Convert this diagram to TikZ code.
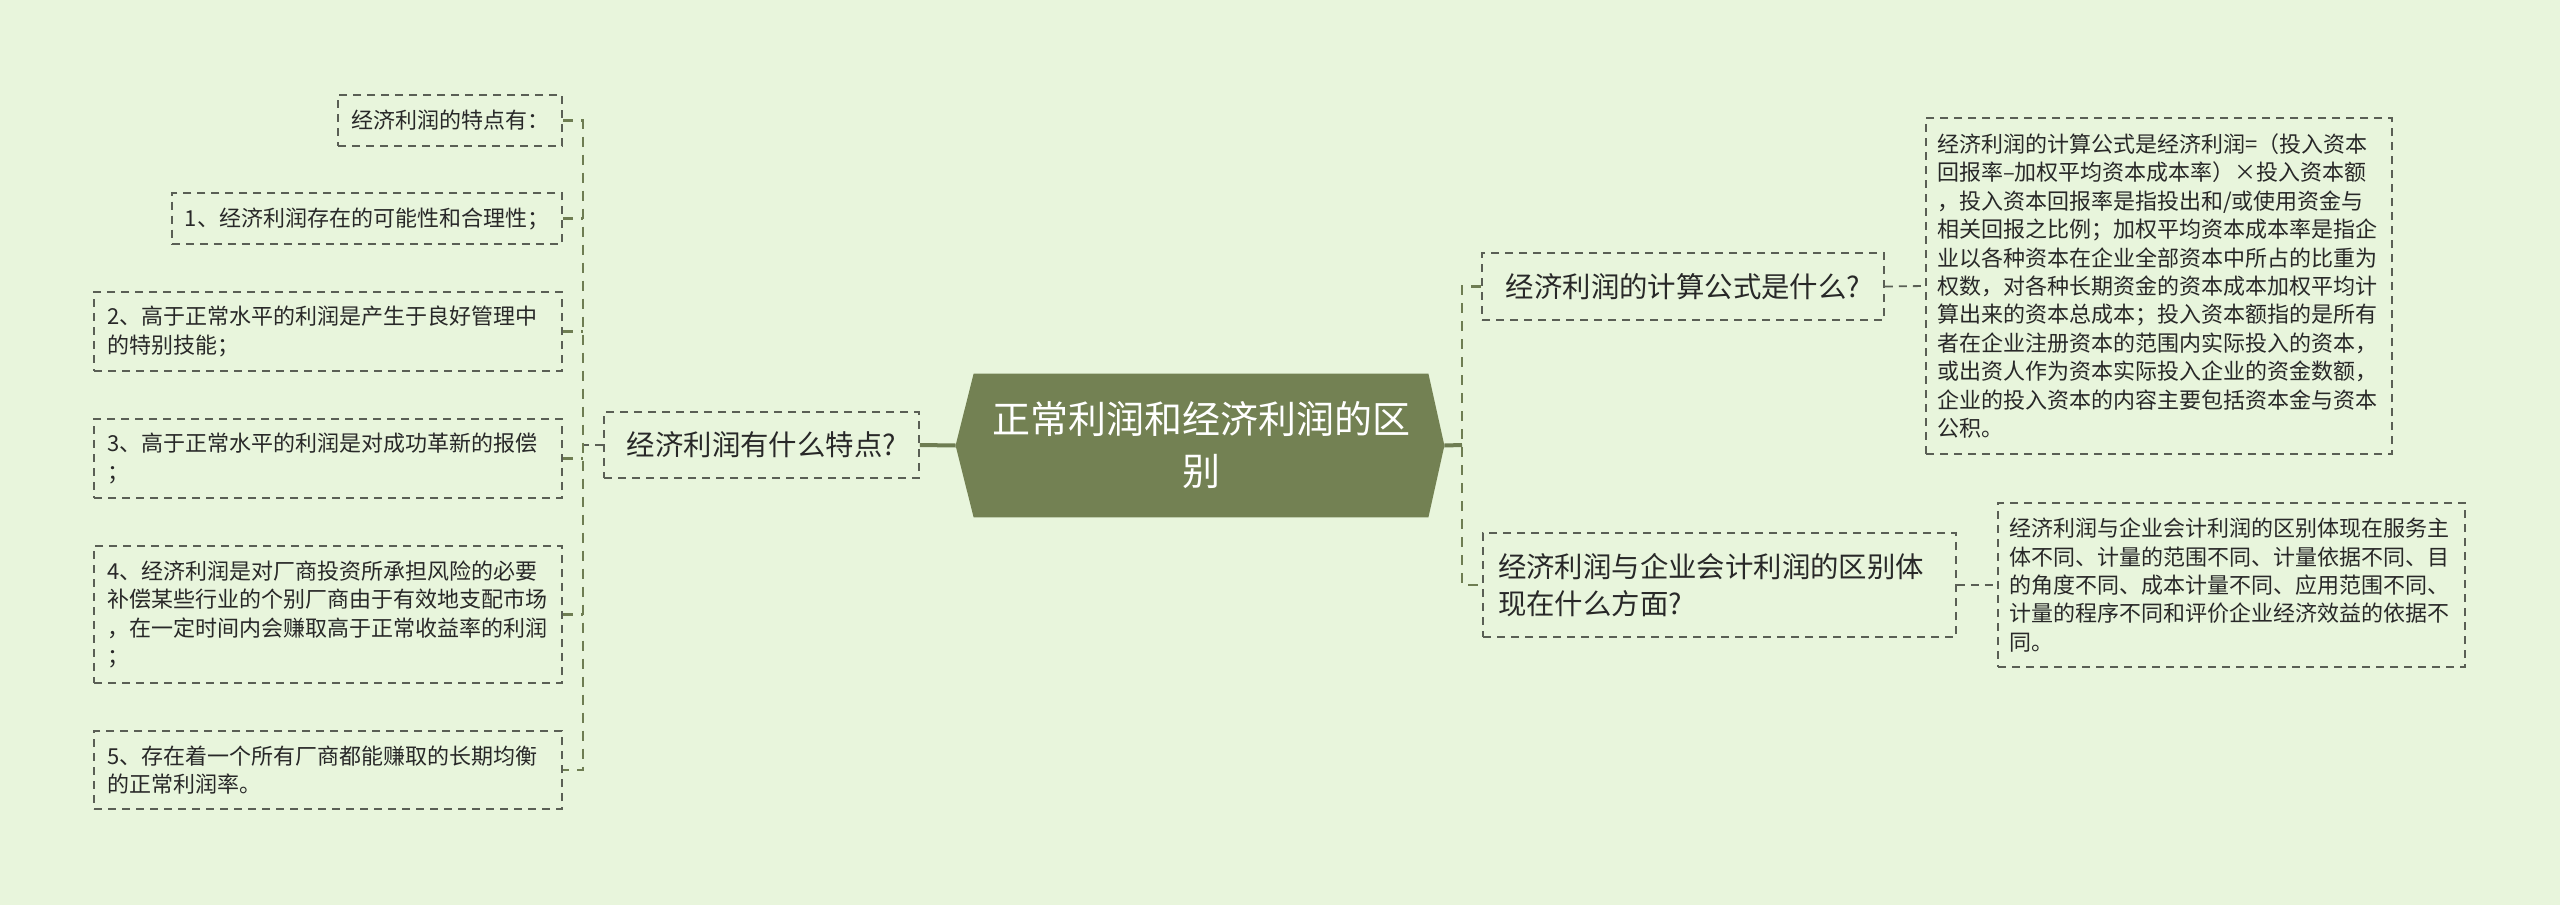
\documentclass[tikz,border=0pt]{standalone}
\usepackage{fontspec}
\setmainfont{Noto Sans CJK SC}
\usepackage{xcolor}
\usepackage{tikz}
\usetikzlibrary{backgrounds}
\definecolor{bgc}{RGB}{232,245,220}
\definecolor{rootc}{RGB}{115,129,83}
\definecolor{trunkc}{RGB}{110,125,82}
\definecolor{linec}{RGB}{90,95,85}
\definecolor{textc}{RGB}{40,40,40}

\begin{document}
\begin{tikzpicture}[x=0.5pt, y=-0.5pt,
    leaf/.style={draw=linec, line width=0.9pt, dash pattern=on 4pt off 3pt, text=textc,
        align=left, font=\fontsize{11}{14.2}\selectfont, inner xsep=6.5pt},
    topic/.style={draw=linec, line width=0.9pt, dash pattern=on 4pt off 3pt, text=textc,
        align=left, font=\fontsize{14.2}{18.5}\selectfont},
    trunk/.style={draw=trunkc, line width=1.2pt, dash pattern=on 5pt off 4pt},
    link/.style={draw=linec, line width=0.9pt, dash pattern=on 4pt off 3pt},
    stem/.style={draw=trunkc, line width=2pt}]
    \useasboundingbox (0,0) rectangle (2560,905);

    \node[text=white, align=center, font=\fontsize{19}{26}\selectfont,
        minimum width=227pt, minimum height=71.5pt, inner sep=0pt] (root) at (1201,445.5)
        {正常利润和经济利润的区\\别};
    \coordinate (rootL) at ([xshift=-9pt]root.west);
    \coordinate (rootR) at ([xshift=8pt]root.east);
    \begin{pgfonlayer}{background}
        \fill[bgc] (0,0) rectangle (2560,905);
        \fill[rootc] (root.north west) -- (root.north east) -- (rootR) -- (root.south east)
            -- (root.south west) -- (rootL) -- cycle;
    \end{pgfonlayer}

    % left branch
    \node[topic, minimum width=157.5pt, minimum height=33pt, align=center] (L1) at (761.5,445)
        {经济利润有什么特点?};
    \node[leaf, anchor=east, minimum height=25.5pt] (k0) at (563,120.5) {经济利润的特点有：};
    \node[leaf, anchor=east, minimum height=25.5pt] (k1) at (563,218.5) {1、经济利润存在的可能性和合理性；};
    \node[leaf, anchor=east, text width=221pt, minimum height=39.5pt] (k2) at (563,331.5)
        {2、高于正常水平的利润是产生于良好管理中\\的特别技能；};
    \node[leaf, anchor=east, text width=221pt, minimum height=39.5pt] (k3) at (563,458.5)
        {3、高于正常水平的利润是对成功革新的报偿\\；};
    \node[leaf, anchor=east, text width=221pt, minimum height=68.5pt] (k4) at (563,614.5)
        {4、经济利润是对厂商投资所承担风险的必要\\补偿某些行业的个别厂商由于有效地支配市场\\，在一定时间内会赚取高于正常收益率的利润\\；};
    \node[leaf, anchor=east, text width=221pt, minimum height=39pt] (k5) at (563,770)
        {5、存在着一个所有厂商都能赚取的长期均衡\\的正常利润率。};

    % right branch
    \node[topic, minimum width=201pt, minimum height=33.5pt, align=center] (R1) at (1683,286.5)
        {经济利润的计算公式是什么?};
    \node[topic, text width=221.5pt, inner xsep=7.5pt, minimum height=52pt] (R2) at (1719.5,585)
        {经济利润与企业会计利润的区别体\\现在什么方面?};
    \node[leaf, text width=222pt, inner xsep=5.5pt, minimum height=168pt] (R1t) at (2159,286)
        {经济利润的计算公式是经济利润=（投入资本\\回报率–加权平均资本成本率）×投入资本额\\，投入资本回报率是指投出和/或使用资金与\\相关回报之比例；加权平均资本成本率是指企\\业以各种资本在企业全部资本中所占的比重为\\权数，对各种长期资金的资本成本加权平均计\\算出来的资本总成本；投入资本额指的是所有\\者在企业注册资本的范围内实际投入的资本，\\或出资人作为资本实际投入企业的资金数额，\\企业的投入资本的内容主要包括资本金与资本\\公积。};
    \node[leaf, text width=222.5pt, inner xsep=5.5pt, minimum height=82pt] (R2t) at (2231.5,585)
        {经济利润与企业会计利润的区别体现在服务主\\体不同、计量的范围不同、计量依据不同、目\\的角度不同、成本计量不同、应用范围不同、\\计量的程序不同和评价企业经济效益的依据不\\同。};

    \coordinate (lj) at (583,445);
    \coordinate (rj) at (1462,445);
    \draw[stem] (rootL) -- (L1.east);
    \draw[stem] (rootR) -- (rj);
    \draw[link] (L1.west) -- (lj);
    \draw[trunk] (k0.east) -| (lj) |- (k5.east);
    \foreach \k in {k1,k2,k3,k4}
        \draw[trunk] (\k.east) -- (\k.east -| lj);
    \draw[trunk] (R1.west) -| (rj) |- (R2.west);
    \draw[link] (R1.east) -- (R1t.west);
    \draw[link] (R2.east) -- (R2t.west);
\end{tikzpicture}
\end{document}
